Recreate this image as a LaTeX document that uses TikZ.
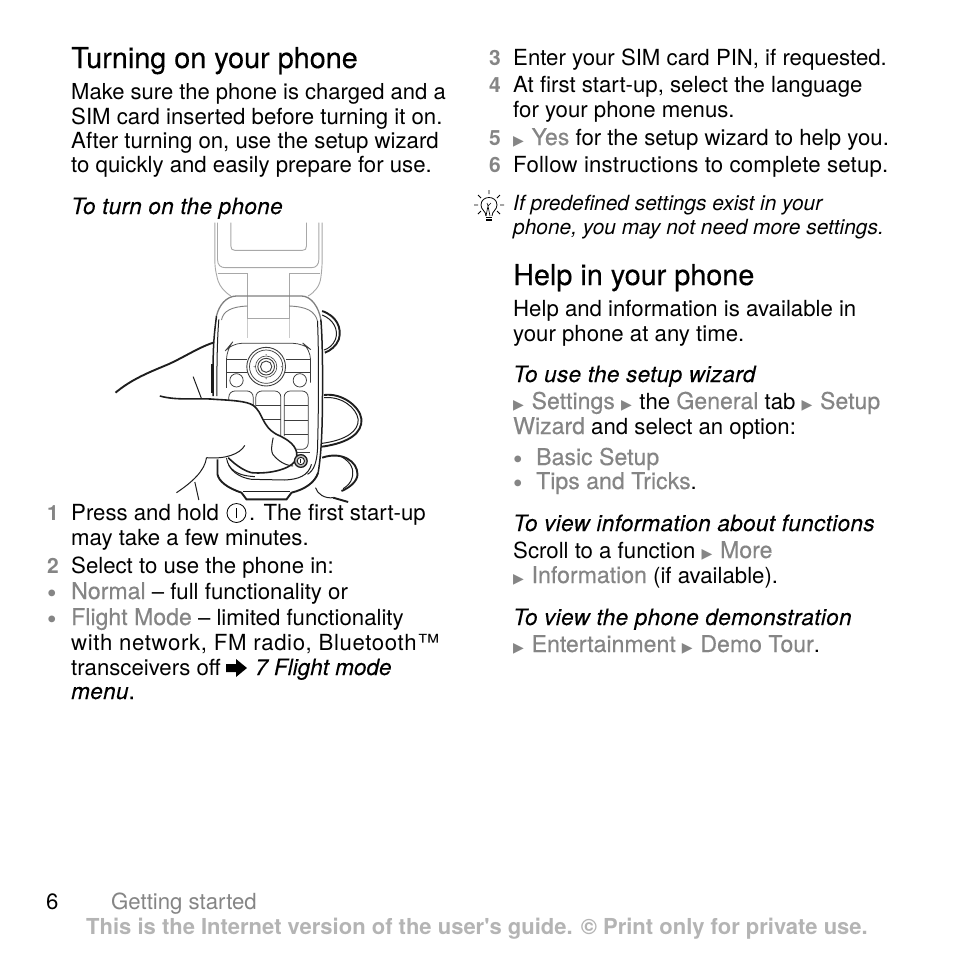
\documentclass[tikz,border=0pt]{standalone}
\usepackage{fontspec}
\setmainfont{TeX Gyre Heros}
\newfontfamily\symf{DejaVu Sans}
\newfontfamily\medf[FakeBold=0.3]{TeX Gyre Heros}
\newfontfamily\apof{TeX Gyre Heros}
\definecolor{gtxt}{HTML}{858585}
\definecolor{foot}{HTML}{B4B4B4}
\definecolor{lid}{HTML}{A8A8A8}
\definecolor{body}{HTML}{1E1E1E}
\definecolor{keys}{HTML}{3C3C3C}
\newcommand{\grt}[1]{\textcolor{gtxt}{\medf\fontsize{23.1}{24}\selectfont #1}}
\newcommand{\arr}{\textcolor{gtxt}{{\symf\fontsize{14}{14}\selectfont ▶}}\kern1.5pt}
\newcommand{\tl}[5][txt]{\node[#1] (#2) at (#3,#4) {#5};}
\tikzset{
  txt/.style={anchor=base west,inner sep=0pt,font=\fontsize{22.2}{24}\selectfont,text=black},
  itx/.style={txt,font=\fontsize{22.5}{24}\selectfont\itshape\addfontfeature{LetterSpace=1.6,FakeBold=0.2}},
  sit/.style={txt,font=\fontsize{20.9}{24}\selectfont\itshape},
  hd/.style={txt,font=\medf\fontsize{28.8}{30}\selectfont},
  num/.style={txt,text=gtxt,font=\fontsize{21}{24}\selectfont\bfseries},
  bul/.style={txt,text=gtxt,font=\fontsize{27}{24}\selectfont\bfseries},
  ftr/.style={anchor=base,inner sep=0pt,font=\fontsize{22}{24}\selectfont\bfseries,text=foot},
  gs/.style={txt,text=gtxt},
  lidl/.style={draw=lid,line width=0.9pt},
  lnk/.style={draw=body,line width=1pt},
  thick2/.style={draw=body,line width=1.9pt},
  key/.style={draw=keys,line width=0.75pt,rounded corners=2pt}
}
\begin{document}
\begin{tikzpicture}[x=1pt,y=-1pt]
\useasboundingbox (0,0) rectangle (954,954);
\fill[white] (0,0) rectangle (954,954);
% ---------- phone illustration ----------
\begin{scope}[shift={(111.5,216)},scale=1/3]
 % lid
 \draw[lidl] (310,20) -- (310,130) .. controls (310,150) and (312,165) .. (316,180) .. controls (320,205) and (335,225) .. (358,240);
 \draw[lidl] (318,20) -- (318,130) .. controls (318,148) and (328,155) .. (342,155) -- (600,155) .. controls (615,155) and (622,145) .. (622,130) -- (622,20);
 \draw[lidl] (632,20) -- (632,130) .. controls (632,150) and (630,170) .. (628,185) .. controls (625,210) and (610,228) .. (590,240);
 \draw[lidl] (358,20) -- (358,90) .. controls (358,99) and (362,103) .. (370,103) -- (573,103) .. controls (581,103) and (585,99) .. (585,90) -- (585,20);
 \draw[lidl] (318,172) -- (408,172) -- (408,308) -- (533,308) -- (533,172) -- (626,172);
 \draw[draw=lid!60,line width=0.7pt] (408,308) -- (408,365) (533,308) -- (533,365);
 % fingers behind on the right
 \draw[thick2] (632,285) .. controls (675,300) and (692,335) .. (682,370) .. controls (675,390) and (655,405) .. (640,410);
 \draw[lnk] (632,297) .. controls (665,310) and (682,340) .. (672,370) .. controls (665,388) and (650,398) .. (638,402);
 \draw[thick2] (638,537) .. controls (690,530) and (745,570) .. (750,610) .. controls (752,650) and (715,680) .. (632,692);
 \draw[lnk] (638,545) .. controls (690,540) and (735,575) .. (740,610) .. controls (742,645) and (705,672) .. (632,682);
 \draw[thick2] (632,725) .. controls (690,705) and (738,735) .. (738,775) .. controls (738,795) and (715,815) .. (690,825);
 \draw[lnk] (690,722) .. controls (720,740) and (728,760) .. (722,785) .. controls (718,800) and (708,810) .. (695,818);
 \draw[lnk] (612,815) .. controls (618,835) and (640,848) .. (665,845);
 \draw[thick2] (665,845) -- (710,858);
 % body
 \draw[draw=gray,line width=1.3pt] (315,300) .. controls (322,268) and (345,240) .. (375,240) -- (570,240) .. controls (600,240) and (622,275) .. (628,310);
 \draw[draw=gray,line width=0.9pt] (330,312) .. controls (335,285) and (360,272) .. (408,270) (533,270) .. controls (585,272) and (610,285) .. (618,315);
 \draw[draw=body,line width=1.5pt] (315,300) .. controls (310,340) and (306,370) .. (305,430) -- (305,540);
 \draw[lnk] (322,310) .. controls (318,360) and (316,420) .. (316,540);
 \draw[draw=body,line width=1.5pt] (628,310) .. controls (634,380) and (634,500) .. (632,620) .. controls (630,680) and (628,720) .. (620,770);
 \draw[lnk] (618,315) .. controls (622,400) and (622,560) .. (618,700) .. controls (616,740) and (606,765) .. (588,775);
 \draw[draw=body,line width=2pt] (301,445) -- (301,530);
 % keypad frame
 \draw[key,rounded corners=10pt] (345,430) -- (345,400) -- (360,382) -- (575,382) -- (597,400) -- (597,500);
 \draw[key] (345,430) -- (405,430) (345,470) -- (410,470) (345,430) -- (345,470) (525,430) -- (597,430) (520,470) -- (597,470);
 \draw[key,rounded corners=0pt] (345,470) -- (345,515);
 \foreach \r/\w in {58/0.9,50/0.7,32/0.6,25/0.9,17/0.9} \draw[draw=keys,line width=\w pt,fill=white] (464,452) circle[radius=\r];
 \foreach \a/\b in {464/416,464/488,428/452,510/452} \fill[gray] (\a,\b) circle[radius=2.2];
 \draw[key,fill=white] (375,493) circle[radius=20];
 \draw[key,fill=white] (565,493) circle[radius=20];
 % keys
 \draw[key,rounded corners=6pt] (352,560) -- (352,525) -- (425,525) -- (425,580);
 \draw[key,rounded corners=6pt] (433,575) -- (433,525) -- (508,525) -- (508,660);
 \draw[key] (433,568) -- (508,568) (440,610) -- (508,610);
 \draw[key,rounded corners=6pt] (518,660) -- (518,525) -- (590,525) -- (590,700) -- (555,700);
 \draw[key] (518,568) -- (590,568) (518,612) -- (590,612) (518,655) -- (590,655);
 \draw[key] (555,708) -- (597,708);
 % lower case
 \draw[draw=body,line width=1.9pt] (318,730) -- (318,775) .. controls (322,795) and (345,815) .. (390,830) -- (405,850) -- (525,850) -- (540,830) .. controls (580,820) and (610,800) .. (620,770);
 \draw[lnk] (345,725) .. controls (350,765) and (385,785) .. (420,790) -- (520,792) .. controls (560,790) and (590,780) .. (600,745);
 \draw[lnk] (395,825) -- (535,825);
 \draw[lnk] (352,748) .. controls (370,775) and (400,780) .. (430,782);
 % thumb
 \fill[white] (0,540) -- (145,540) .. controls (200,555) and (260,545) .. (310,550) .. controls (360,553) and (405,555) .. (425,568) .. controls (455,590) and (450,630) .. (495,655) .. controls (530,670) and (558,690) .. (556,720) .. controls (553,760) and (470,775) .. (420,770) .. controls (385,765) and (355,745) .. (345,725) -- (285,725) -- (270,770) -- (190,840) -- (0,840) -- cycle;
 \draw[thick2] (12,530) .. controls (60,490) and (110,470) .. (170,445) .. controls (215,425) and (260,395) .. (305,380);
 \draw[lnk] (245,482) -- (270,548);
 \draw[draw=body,line width=1.6pt] (145,540) .. controls (200,555) and (260,545) .. (310,550) .. controls (360,553) and (405,555) .. (425,568) .. controls (455,590) and (450,630) .. (495,655) .. controls (530,670) and (558,690) .. (556,720) .. controls (553,760) and (470,775) .. (420,770) .. controls (400,765) and (375,750) .. (350,725);
 \draw[lnk] (485,665) .. controls (480,690) and (478,705) .. (484,715) .. controls (500,735) and (520,748) .. (545,750);
 \draw[lnk] (400,688) .. controls (385,715) and (340,730) .. (285,725);
 \draw[lnk] (285,725) .. controls (280,765) and (240,800) .. (195,830);
 \draw[lnk] (250,798) -- (262,852);
 % power key
 \draw[draw=body,line width=1.3pt,fill=lightgray] (568,735) circle[radius=19];
 \draw[draw=body,line width=0.9pt,fill=white] (568,735) circle[radius=11];
 \draw[draw=body,line width=1pt] (568,728) -- (568,742);
\end{scope}
% ---------- left column ----------
\tl[hd]{h1}{71}{68}{Turning on your phone}
\tl{a1}{71}{99}{\fontsize{22}{24}\selectfont Make sure the phone is charged and a}
\tl{a2}{71}{124}{SIM card inserted before turning it on.}
\tl{a3}{71}{148}{After turning on, use the setup wizard}
\tl{a4}{71}{172}{to quickly and easily prepare for use.}
\tl[itx]{a5}{71}{214}{To turn on the phone}
\tl[num]{n1}{47}{520}{1}
\tl{b1}{71}{520}{Press and hold}
\node[draw,circle,line width=0.8pt,minimum size=19pt,inner sep=0pt] (pw) at (236.5,513) {};
\draw[line width=0.9pt] (pw.center) ++(0,-5) coordinate (pwa) (pw.center) ++(0,5) coordinate (pwb) (pwa) -- (pwb);
\tl{b1a}{249}{520}{. The first start-up}
\tl{b2}{71}{545}{may take a few minutes.}
\tl[num]{n2}{47}{573}{2}
\tl{b3}{71}{573}{Select to use the phone in:}
\tl[bul]{d1}{47}{601}{•}
\tl{b4}{71}{599}{\grt{Normal} -- full functionality or}
\tl[bul]{d2}{47}{627}{•}
\tl{b5}{71}{625}{\grt{Flight Mode} -- limited functionality}
\tl{b6}{71}{650}{\addfontfeature{LetterSpace=2.8}with network, FM radio, Bluetooth™}
\tl{b7}{71}{675}{transceivers off}
\fill (226,664) -- (236,664) -- (236,659) -- (247,668) -- (236,677) -- (236,672) -- (226,672) -- cycle;
\tl[itx]{b8}{255}{675}{\addfontfeature{LetterSpace=0}7 Flight mode}
\tl[itx]{b9}{71}{699}{menu\upshape .}
% ---------- right column ----------
\tl[num]{n3}{489}{65}{3}
\tl{c1}{513}{65}{Enter your SIM card PIN, if requested.}
\tl[num]{n4}{489}{92}{4}
\tl{c2}{513}{92}{At first start-up, select the language}
\tl{c3}{513}{117}{for your phone menus.}
\tl[num]{n5}{489}{145}{5}
\tl{c4}{513}{145}{\arr{} \grt{Yes} for the setup wizard to help you.}
\tl[num]{n6}{489}{172}{6}
\tl{c5}{513}{172}{\addfontfeature{LetterSpace=0.9}Follow instructions to complete setup.}
% tip bulb
\begin{scope}[line width=0.8pt]
 \draw (486,216) .. controls (486,211) and (481,210) .. (481,205) .. controls (481,195) and (497,195) .. (497,205) .. controls (497,210) and (492,211) .. (492,216);
 \draw[line width=0.6pt] (486,216) -- (488,206) -- (490,216) (487,203) -- (488,206) -- (491,203);
 \draw[line width=1.6pt] (486,217.5) -- (492,217.5) (486,220) -- (492,220);
 \draw (478,195) -- (481,198) (489,190) -- (489,194) (500,195) -- (497,198) (474,205) -- (478,205) (500,205) -- (504,205) (478,214) -- (481,211) (500,214) -- (497,211);
\end{scope}
\tl[sit]{c6}{513}{210}{If predefined settings exist in your}
\tl[sit]{c7}{513}{234}{phone, you may not need more settings.}
\tl[hd]{h2}{513}{285}{Help in your phone}
\tl{e1}{513}{316}{Help and information is available in}
\tl{e2}{513}{341}{your phone at any time.}
\tl[itx]{e3}{513}{382}{To use the setup wizard}
\tl{e4}{513}{409}{\arr{} \grt{Settings} \arr{} the \grt{General} tab \arr{} \grt{Setup}}
\tl{e5}{513}{434}{\grt{Wizard} and select an option:}
\tl[bul]{d3}{513}{467}{•}
\tl{e6}{536}{465}{\grt{Basic Setup}}
\tl[bul]{d4}{513}{491}{•}
\tl{e7}{536}{489}{\grt{Tips and Tricks}.}
\tl[itx]{e8}{513}{531}{To view information about functions}
\tl{e9}{513}{558}{Scroll to a function \arr{} \grt{More}}
\tl{e10}{513}{583}{\arr{} \grt{Information} (if available).}
\tl[itx]{e11}{513}{625}{To view the phone demonstration}
\tl{e12}{513}{652}{\arr{} \grt{Entertainment} \arr{} \grt{Demo Tour}.}
% ---------- footer ----------
\tl{pg}{46}{909}{6}
\tl[gs]{gt}{111}{909}{Getting started}
\node[ftr] (ft) at (477,934) {This is the Internet version of the user{\apof\bfseries\char"0027}s guide. © Print only for private use.};
\end{tikzpicture}
\end{document}
